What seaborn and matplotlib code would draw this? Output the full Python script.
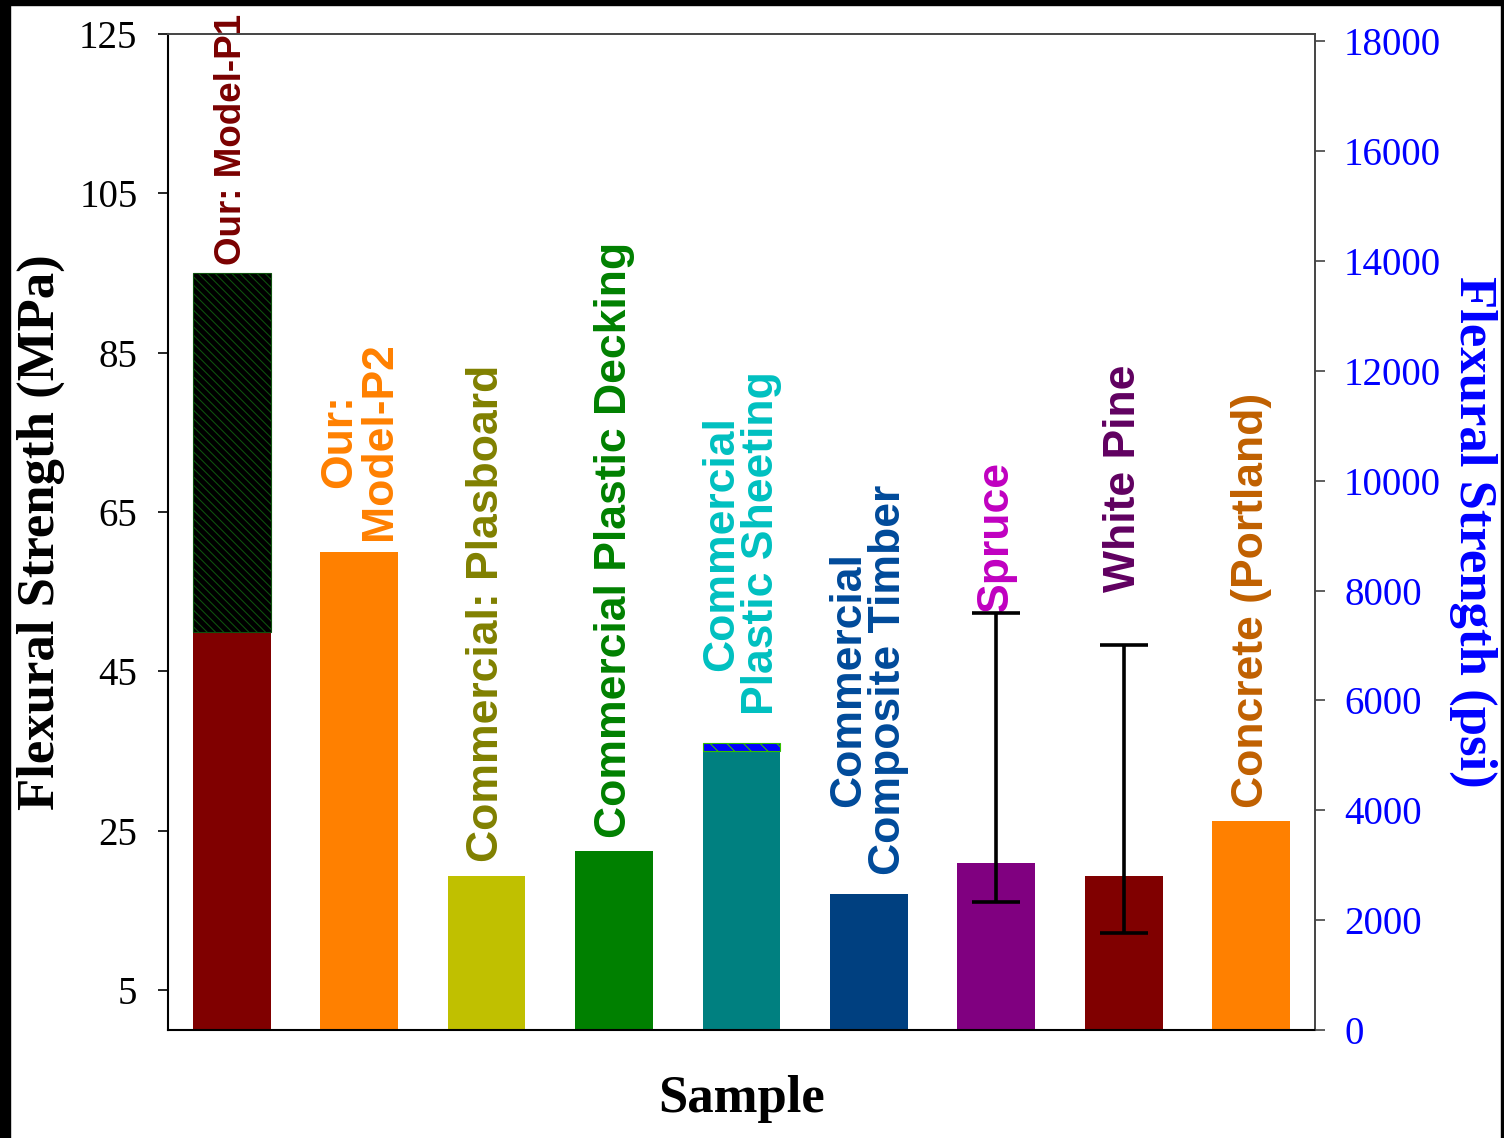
import matplotlib
matplotlib.use("Agg")
import matplotlib.pyplot as plt
from matplotlib.patches import Rectangle
import numpy as np
import pandas as pd
import seaborn as sns

# ---- data -------------------------------------------------------------
samples = ["Our: Model-P1", "Our:\nModel-P2", "Commercial: Plasboard",
           "Commercial Plastic Decking", "Commercial\nPlastic Sheeting",
           "Commercial\nComposite Timber", "Spruce", "White Pine",
           "Concrete (Portland)"]
strength_mpa = [50.0, 60.0, 19.3, 22.5, 35.0, 17.1, 21.0, 19.3, 26.2]

# stacked upper segments (hatched) on top of the base bars
upper_idx = [0, 4]
upper_top = [95.0, 36.0]

# measured ranges for the wood samples
range_idx = [6, 7]
range_low = [16.1, 12.2]
range_high = [52.3, 48.3]

# height (MPa) where each rotated sample label starts
label_base = [96.0, 61.5, 21.1, 24.1, 39.5, 19.5, 52.5, 55.0, 27.9]
label_size = [26.5, 32, 32, 32, 32, 32, 32, 32, 32]

bar_colors = ["#800000", "#ff8000", "#c0c000", "#008000", "#008080",
              "#004080", "#800080", "#800000", "#ff8000"]
label_colors = ["#7a0000", "#ff8000", "#808000", "#008000", "#00c0c0",
                "#004a9a", "#c000c0", "#600060", "#c06000"]
upper_face = ["#000000", "#0000ff"]
upper_hatch = ["#0e500e", "#33c000"]
upper_pattern = ["\\" * 4, "\\" * 2]

psi_ticks = list(range(0, 18001, 2000))
mpa_ticks = [5, 25, 45, 65, 85, 105, 125]
MPA_TO_PSI = 145.038

df = pd.DataFrame({"sample": samples, "strength": strength_mpa})

# ---- style ------------------------------------------------------------
sns.set_style("ticks")
plt.rcParams["font.family"] = ["Liberation Serif", "DejaVu Serif"]
plt.rcParams["hatch.linewidth"] = 0.8
for key in ["text.color", "axes.labelcolor", "xtick.color", "ytick.color"]:
    plt.rcParams[key] = "black"

fig = plt.figure(figsize=(15.04, 11.38), dpi=100)
fig.patch.set_facecolor("white")
ax = fig.add_axes([0.1117, 0.0949, 0.7626, 0.8752])

sns.barplot(data=df, x="sample", y="strength", hue="sample",
            palette=bar_colors, width=0.61, legend=False, ax=ax,
            linewidth=0, saturation=1)

# hatched stacked segments
for i, top, fc, hc, pat in zip(upper_idx, upper_top, upper_face,
                               upper_hatch, upper_pattern):
    base = strength_mpa[i]
    ax.bar(i, top - base, bottom=base, width=0.61, color=fc,
           edgecolor=hc, hatch=pat, linewidth=0.8)

# range bars for the wood samples
yvals = [strength_mpa[i] for i in range_idx]
yerr = [[v - lo for v, lo in zip(yvals, range_low)],
        [hi - v for v, hi in zip(yvals, range_high)]]
ax.errorbar(range_idx, yvals, yerr=yerr, fmt="none", ecolor="black",
            elinewidth=2.6, capsize=17, capthick=2.6, zorder=5)

# rotated sample labels
for i, (name, yb, c, fs) in enumerate(zip(samples, label_base,
                                          label_colors, label_size)):
    ax.text(i, yb, name, rotation=90, ha="center", va="bottom",
            multialignment="center", linespacing=0.97, color=c,
            fontsize=fs, fontweight="bold",
            family=["Liberation Sans", "DejaVu Sans"], clip_on=False)

# ---- axes -------------------------------------------------------------
ax.set_xlim(-0.5, 8.5)
ax.set_ylim(0, 125)
ax.set_xticks([])
ax.set_yticks(mpa_ticks)
ax.set_yticklabels([str(t) for t in mpa_ticks])
ax.tick_params(axis="y", direction="out", length=7, width=1.2, pad=15,
               labelsize=28, colors="black")
ax.set_xlabel("Sample", fontsize=38, fontweight="bold")
ax.xaxis.set_label_coords(0.5, -0.045)
ax.set_ylabel("Flexural Strength (MPa)", fontsize=38, fontweight="bold")
ax.yaxis.set_label_coords(-0.090, 0.5)

for side in ["left", "bottom"]:
    ax.spines[side].set_color("black")
    ax.spines[side].set_linewidth(1.5)
for side in ["top", "right"]:
    ax.spines[side].set_color("#444444")
    ax.spines[side].set_linewidth(1.4)

ax2 = ax.twinx()
ax2.set_ylim(0, 125 * MPA_TO_PSI)
ax2.set_yticks(psi_ticks)
ax2.set_yticklabels([str(t) for t in psi_ticks])
ax2.tick_params(axis="y", direction="out", length=7, width=1.2, pad=14,
                labelsize=28, labelcolor="blue", color="#444444")
ax2.set_ylabel("Flexural Strength (psi)", fontsize=38, fontweight="bold",
               color="blue", rotation=270, va="bottom")
ax2.yaxis.set_label_coords(1.117, 0.5)
for side in ax2.spines:
    ax2.spines[side].set_visible(False)

# dark frame along the top and sides of the figure
fig.add_artist(Rectangle((0, 1 - 5 / 1138), 1, 5 / 1138,
                         transform=fig.transFigure, color="black"))
fig.add_artist(Rectangle((0, 0), 10 / 1504, 1,
                         transform=fig.transFigure, color="black"))
fig.add_artist(Rectangle((1 - 3 / 1504, 0), 3 / 1504, 1,
                         transform=fig.transFigure, color="black"))

fig.savefig("out.png", dpi=100)
